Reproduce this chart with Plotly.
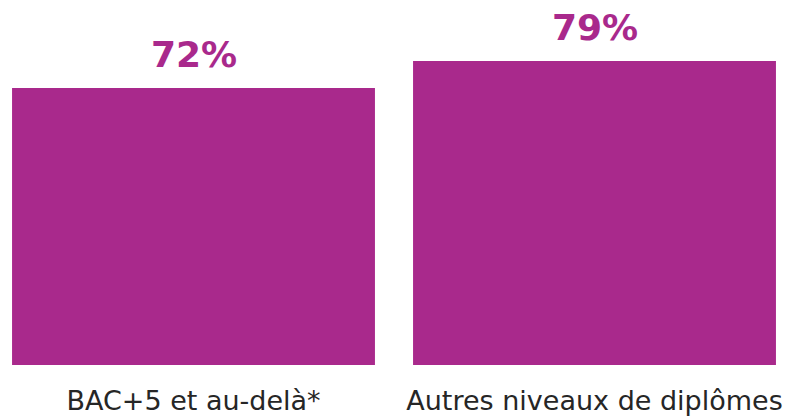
import plotly.graph_objects as go

categories = ["BAC+5 et au-delà*", "Autres niveaux de diplômes"]
values = [72, 79]
value_labels = ["72%", "79%"]

purple = "#A9298C"

fig = go.Figure()
fig.add_trace(go.Bar(
    x=categories, y=values,
    marker=dict(color=purple, line=dict(width=0)),
    width=0.905,
    hoverinfo="skip",
))
for c, v, t in zip(categories, values, value_labels):
    fig.add_annotation(x=c, y=v, text="<b>%s</b>" % t, showarrow=False,
                       yanchor="bottom", yshift=11,
                       font=dict(family="DejaVu Sans", size=36, color=purple))

fig.update_layout(
    width=795, height=410,
    margin=dict(l=0, r=8, t=0, b=53),
    paper_bgcolor="white", plot_bgcolor="white",
    showlegend=False,
    xaxis=dict(range=[-0.4626, 1.5], showgrid=False, zeroline=False, showline=False,
               ticks="", ticklabelstandoff=17,
               tickfont=dict(family="DejaVu Sans", size=27, color="#262626")),
    yaxis=dict(range=[0, 92.8], visible=False, showgrid=False, zeroline=False),
)
fig.write_html("out.html")
